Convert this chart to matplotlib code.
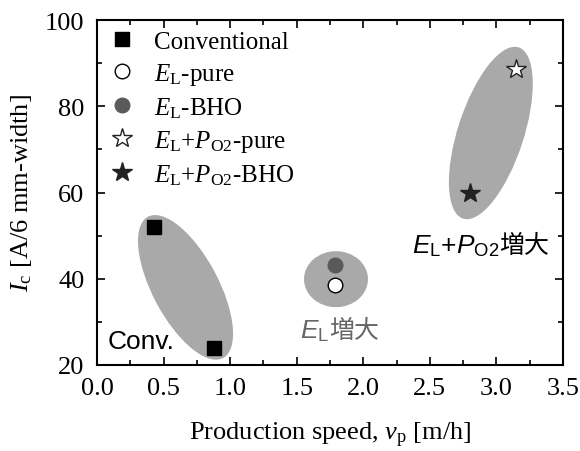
import matplotlib
matplotlib.use("Agg")
import matplotlib.pyplot as plt
from matplotlib.patches import Ellipse
from matplotlib.transforms import ScaledTranslation
from matplotlib.ticker import MultipleLocator

plt.rcParams["font.family"] = ["Liberation Serif", "DejaVu Serif"]
plt.rcParams["mathtext.fontset"] = "custom"
plt.rcParams["mathtext.rm"] = "Liberation Serif"
plt.rcParams["mathtext.it"] = "Liberation Serif:italic"
# sans pieces for the in-plot notes (\mathsf = italic sans, \mathbf = upright sans)
plt.rcParams["mathtext.sf"] = "Liberation Sans:italic"
plt.rcParams["mathtext.bf"] = "Liberation Sans"

# data
conv_speed = [0.43, 0.88]
conv_ic = [52, 24]
el_pure_speed = [1.79]
el_pure_ic = [38.5]
el_bho_speed = [1.79]
el_bho_ic = [43.3]
elp_pure_speed = [3.15]
elp_pure_ic = [88.7]
elp_bho_speed = [2.80]
elp_bho_ic = [60]

# grouping ellipses: centre (data), semi-axes (px), angle (deg)
groups = [
    ((0.665, 38.0), 80, 33, -62),
    ((1.795, 39.9), 32, 28, 0),
    ((2.958, 73.8), 90, 33, 72),
]

fig = plt.figure(figsize=(5.8, 4.52), dpi=100)
ax = fig.add_axes([0.1672, 0.1903, 0.8035, 0.7632])

for (cx, cy), a, b, ang in groups:
    tr = fig.dpi_scale_trans + ScaledTranslation(cx, cy, ax.transData)
    ax.add_patch(Ellipse((0, 0), 2 * a / 100, 2 * b / 100, angle=ang,
                         transform=tr, facecolor="#a9a9a9", edgecolor="none", zorder=1))

ax.plot(conv_speed, conv_ic, "s", color="black", ms=10, ls="none",
        label="Conventional", zorder=3)
ax.plot(el_pure_speed, el_pure_ic, "o", mfc="white", mec="black", mew=1, ms=10.5,
        ls="none", label=r"$E_{\mathrm{L}}$-pure", zorder=3)
ax.plot(el_bho_speed, el_bho_ic, "o", color="#5a5a5a", ms=10.5, ls="none",
        label=r"$E_{\mathrm{L}}$-BHO", zorder=3)
ax.plot(elp_pure_speed, elp_pure_ic, "*", mfc="white", mec="#222222", mew=1, ms=15,
        ls="none", label=r"$E_{\mathrm{L}}$+$P_{\mathrm{O2}}$-pure", zorder=3)
ax.plot(elp_bho_speed, elp_bho_ic, "*", color="#222222", ms=15, ls="none",
        label=r"$E_{\mathrm{L}}$+$P_{\mathrm{O2}}$-BHO", zorder=3)

ax.set_xlim(0, 3.5)
ax.set_ylim(20, 100)
ax.xaxis.set_major_locator(MultipleLocator(0.5))
ax.xaxis.set_minor_locator(MultipleLocator(0.25))
ax.yaxis.set_major_locator(MultipleLocator(20))
ax.yaxis.set_minor_locator(MultipleLocator(10))
ax.xaxis.set_major_formatter(plt.FormatStrFormatter("%.1f"))
ax.tick_params(which="both", direction="in", top=True, right=True, labelsize=19)
ax.tick_params(which="major", length=6, width=1.2)
ax.tick_params(which="minor", length=3.5, width=1.2)
ax.tick_params(axis="x", which="major", pad=9)
ax.tick_params(axis="y", which="major", pad=9)
for s in ax.spines.values():
    s.set_linewidth(1.5)

ax.set_xlabel(r"Production speed, $v_{\mathrm{p}}$ [m/h]", fontsize=19, labelpad=15)
ax.set_ylabel(r"$I_{\mathrm{c}}$ [A/6 mm-width]", fontsize=19, labelpad=8)

ax.legend(loc="upper left", frameon=False, fontsize=18, handletextpad=0.7,
          borderaxespad=0.1, labelspacing=0.33, handlelength=1.2,
          borderpad=0.3)

sans = ["Liberation Sans", "Noto Sans CJK JP"]
cjk = ["Noto Sans CJK JP"]

ax.text(0.077, 24.0, "Conv.", family=sans, fontsize=19, color="black", zorder=4)

t1 = ax.text(1.526, 26.5, r"$\mathsf{E}_{\mathbf{L}}$", family=sans, fontsize=19,
             color="#666666", zorder=4)
ax.annotate("増大", xy=(1, 0), xycoords=t1, va="bottom", ha="left",
            family=cjk, fontsize=18, color="#666666", zorder=4)

t2 = ax.text(2.366, 46.2, r"$\mathsf{E}_{\mathbf{L}}$+$\mathsf{P}_{\mathbf{O2}}$",
             family=sans, fontsize=19, color="black", zorder=4)
ax.annotate("増大", xy=(1, 0), xycoords=t2, va="bottom", ha="left",
            family=cjk, fontsize=18, color="black", zorder=4)

fig.savefig("out.png", dpi=100)
